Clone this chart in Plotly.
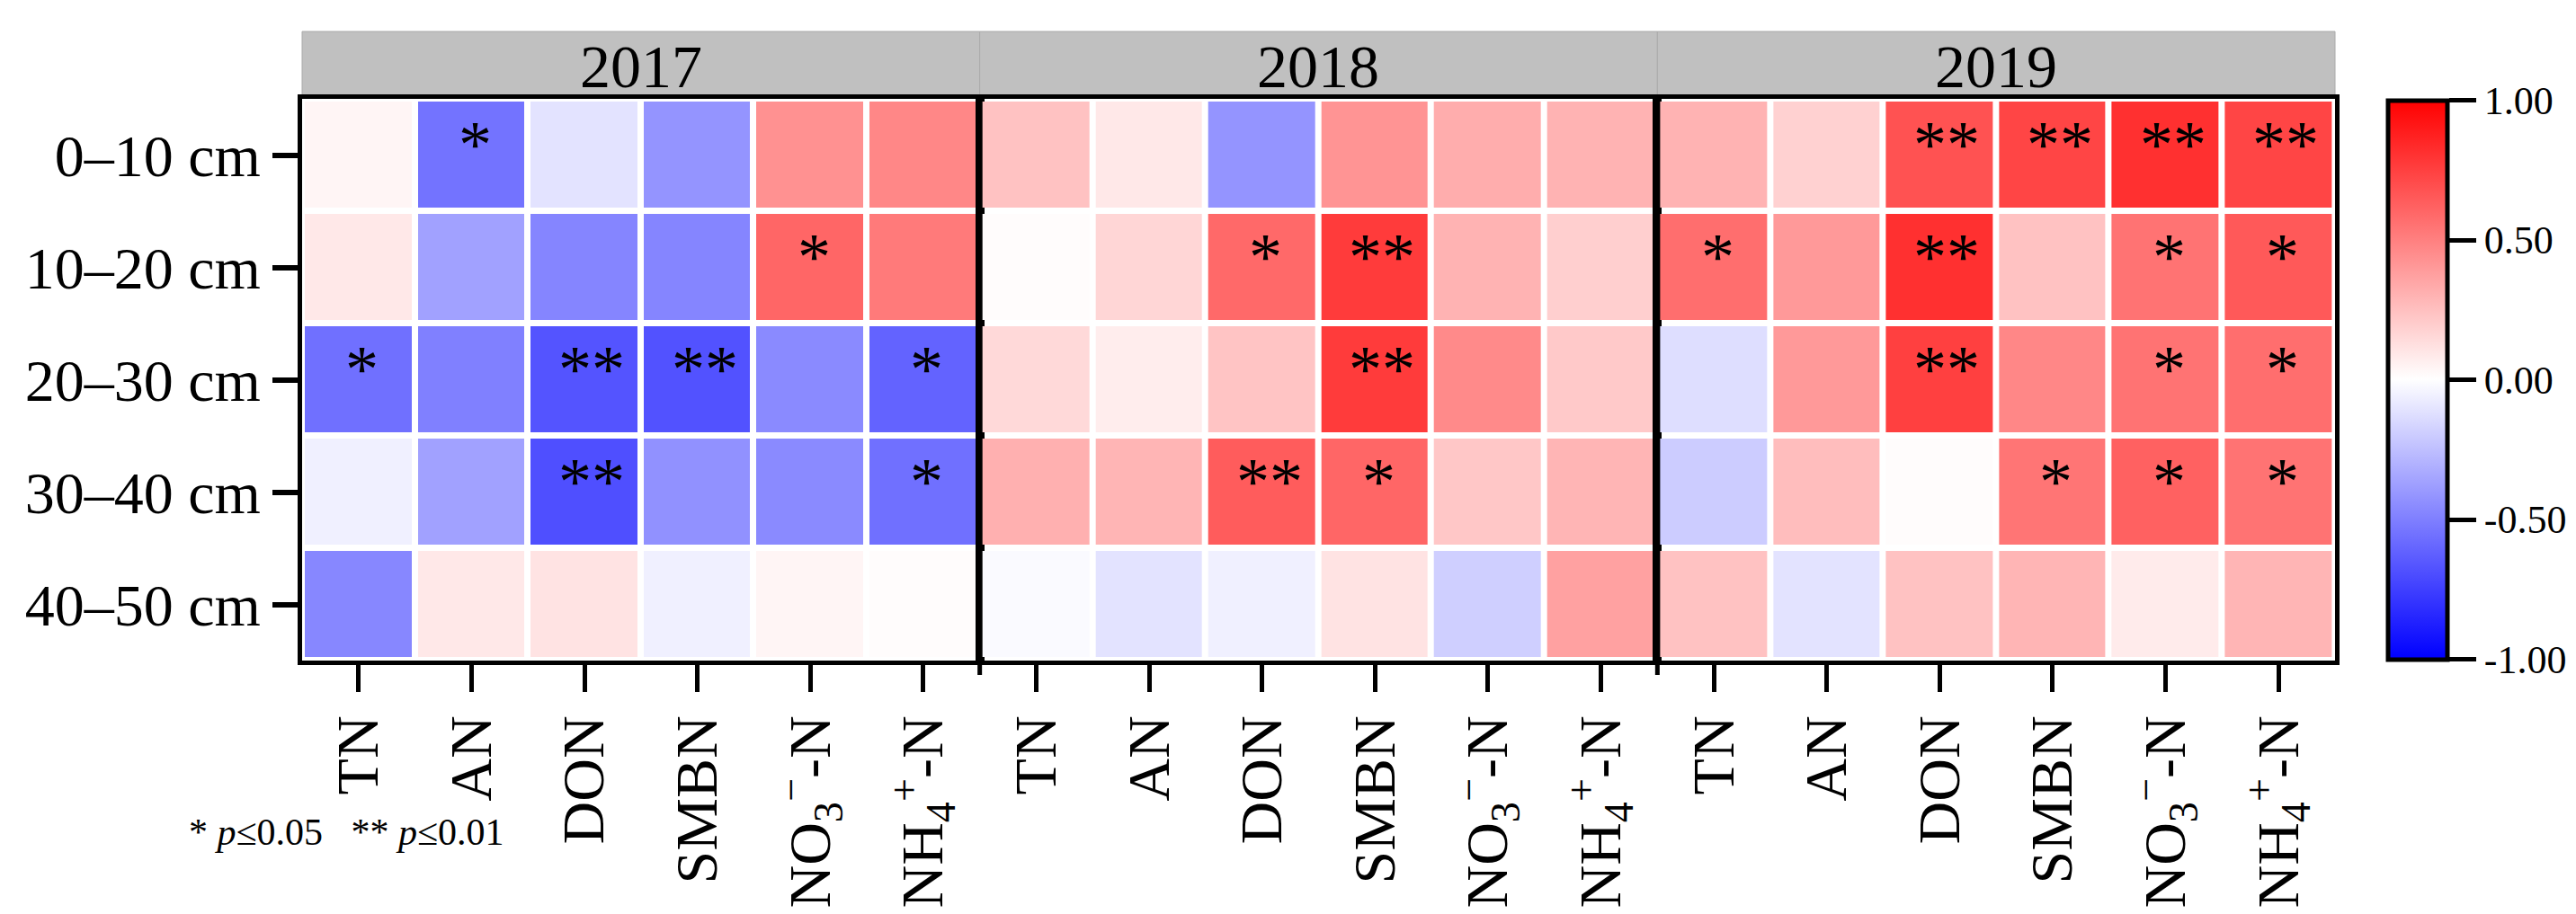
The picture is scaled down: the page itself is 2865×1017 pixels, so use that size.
import plotly.graph_objects as go
from plotly.subplots import make_subplots

years = ["2017", "2018", "2019"]
depths = ["0–10 cm", "10–20 cm", "20–30 cm", "30–40 cm", "40–50 cm"]
variables = ["TN", "AN", "DON", "SMBN",
             "NO<sub>3</sub><sup>−</sup>-N", "NH<sub>4</sub><sup>+</sup>-N"]

# correlation coefficients, rows = depths, columns = variables
r_2017 = [
    [0.04, -0.55, -0.11, -0.42, 0.43, 0.47],
    [0.09, -0.37, -0.48, -0.48, 0.60, 0.52],
    [-0.56, -0.50, -0.67, -0.68, -0.46, -0.61],
    [-0.06, -0.37, -0.69, -0.43, -0.46, -0.56],
    [-0.47, 0.09, 0.11, -0.06, 0.04, 0.01],
]
r_2018 = [
    [0.24, 0.09, -0.42, 0.42, 0.32, 0.30],
    [0.01, 0.16, 0.59, 0.77, 0.30, 0.19],
    [0.15, 0.07, 0.23, 0.77, 0.46, 0.21],
    [0.31, 0.29, 0.64, 0.60, 0.22, 0.29],
    [-0.02, -0.11, -0.06, 0.11, -0.19, 0.37],
]
r_2019 = [
    [0.30, 0.18, 0.68, 0.73, 0.81, 0.73],
    [0.57, 0.40, 0.81, 0.24, 0.55, 0.65],
    [-0.13, 0.40, 0.75, 0.47, 0.55, 0.57],
    [-0.20, 0.26, 0.01, 0.54, 0.62, 0.55],
    [0.24, -0.11, 0.24, 0.29, 0.08, 0.29],
]
sig_2017 = [
    ["", "*", "", "", "", ""],
    ["", "", "", "", "*", ""],
    ["*", "", "**", "**", "", "*"],
    ["", "", "**", "", "", "*"],
    ["", "", "", "", "", ""],
]
sig_2018 = [
    ["", "", "", "", "", ""],
    ["", "", "*", "**", "", ""],
    ["", "", "", "**", "", ""],
    ["", "", "**", "*", "", ""],
    ["", "", "", "", "", ""],
]
sig_2019 = [
    ["", "", "**", "**", "**", "**"],
    ["*", "", "**", "", "*", "*"],
    ["", "", "**", "", "*", "*"],
    ["", "", "", "*", "*", "*"],
    ["", "", "", "", "", ""],
]
colorbar_ticks = [-1.0, -0.5, 0.0, 0.5, 1.0]
colorbar_labels = ["-1.00", "-0.50", "0.00", "0.50", "1.00"]
legend_note = "*\u00a0<i>p</i>≤0.05\u00a0\u00a0\u00a0**\u00a0<i>p</i>≤0.01"

FONT = "Liberation Serif"
W, H = 2865, 1017
ML, MR, MT, MB = 328, 276, 102, 290
plot_w = W - ML - MR
plot_h = H - MT - MB

fig = make_subplots(rows=1, cols=3, shared_yaxes=False, horizontal_spacing=0)

data = [r_2017, r_2018, r_2019]
sigs = [sig_2017, sig_2018, sig_2019]
cscale = [[0.0, "#0000FF"], [0.5, "#FFFFFF"], [1.0, "#FF0000"]]
xidx = list(range(len(variables)))
yidx = list(range(len(depths)))

for k in range(3):
    fig.add_trace(
        go.Heatmap(
            z=data[k], x=xidx, y=yidx,
            zmin=-1, zmax=1, colorscale=cscale,
            xgap=7, ygap=7,
            showscale=(k == 0),
            colorbar=dict(
                x=(2648 - ML) / plot_w,
                xanchor="left", xref="paper",
                y=0.5, yanchor="middle",
                len=622, lenmode="pixels",
                thickness=66, xpad=0, ypad=0,
                outlinewidth=5, outlinecolor="black",
                tickmode="array", tickvals=colorbar_ticks, ticktext=colorbar_labels,
                ticks="outside", ticklen=30, tickwidth=5, tickcolor="black",
                tickfont=dict(family=FONT, size=44, color="black"),
            ),
            hoverinfo="skip",
        ),
        row=1, col=k + 1,
    )
    for i in yidx:
        for j in xidx:
            s = sigs[k][i][j]
            if s:
                fig.add_annotation(
                    x=j, y=i, xref=f"x{'' if k == 0 else k + 1}",
                    yref=f"y{'' if k == 0 else k + 1}",
                    text=s, showarrow=False,
                    xshift=8 if s == "**" else 4, yshift=12,
                    font=dict(family=FONT, size=74, color="black"),
                )
    # strip header
    xd = f"x{'' if k == 0 else k + 1} domain"
    fig.add_shape(type="rect", xref=xd, yref="paper",
                  x0=0, x1=1, y0=1 + 3 / plot_h, y1=1 + 75 / plot_h,
                  fillcolor="#C0C0C0", line=dict(color="#AAAAAA", width=1),
                  layer="below")
    fig.add_annotation(xref=xd, yref="paper", x=0.5, y=1 + 36 / plot_h,
                       text=years[k], showarrow=False, yanchor="middle",
                       font=dict(family=FONT, size=68, color="black"))
    if k > 0:
        # short extension of the panel separator below the frame
        fig.add_shape(type="line", xref=xd, yref="paper",
                      x0=0, x1=0, y0=0, y1=-16 / plot_h,
                      line=dict(color="black", width=5))

for k in range(3):
    fig.update_xaxes(
        row=1, col=k + 1,
        tickmode="array", tickvals=xidx, ticktext=variables,
        tickangle=-90, range=[-0.5, 5.5],
        showline=True, mirror=True, linewidth=5, linecolor="black",
        ticks="outside", ticklen=30, tickwidth=5, tickcolor="black",
        tickfont=dict(family=FONT, size=66, color="black"),
        showgrid=False, zeroline=False,
    )
    fig.update_yaxes(
        row=1, col=k + 1,
        tickmode="array", tickvals=yidx, ticktext=depths,
        range=[4.5, -0.5],
        showline=True, mirror=True, linewidth=5, linecolor="black",
        ticks="outside" if k == 0 else "", ticklen=28, tickwidth=6, tickcolor="black",
        showticklabels=(k == 0),
        tickfont=dict(family=FONT, size=66, color="black"),
        showgrid=False, zeroline=False,
    )

fig.add_annotation(xref="paper", yref="paper",
                   x=(200 - ML) / plot_w, y=-(918 - (H - MB)) / plot_h,
                   xanchor="left", yanchor="middle", showarrow=False,
                   text=legend_note,
                   font=dict(family=FONT, size=42, color="black"))

fig.update_layout(
    width=W, height=H,
    margin=dict(l=ML, r=MR, t=MT, b=MB, autoexpand=False),
    paper_bgcolor="white", plot_bgcolor="white",
    showlegend=False,
)

fig.write_html("out.html")
